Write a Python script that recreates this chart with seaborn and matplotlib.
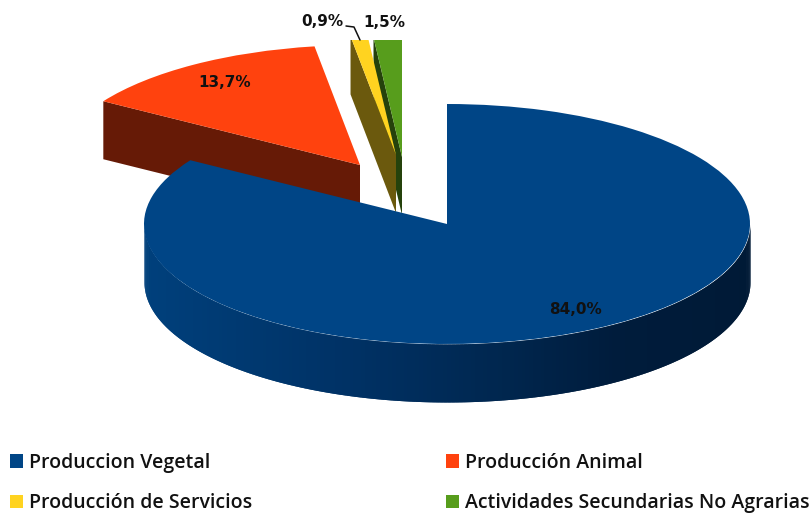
import numpy as np
import matplotlib
matplotlib.use("Agg")
import matplotlib.pyplot as plt
from matplotlib.colors import to_rgb
import seaborn as sns

categories = ["Produccion Vegetal", "Producción Animal", "Producción de Servicios", "Actividades Secundarias No Agrarias"]
values = [84.0, 13.7, 0.9, 1.5]
colors = ["#004586", "#ff420e", "#ffd320", "#579d1c"]
wall_shades = [None, 0.40, 0.42, 0.42]

W, H = 809, 513
CX, CY, RX, RY, DEPTH = 447, 224, 303, 120, 58
CLIP_TOP = 40
# slice offsets in pixels (right, up)
offsets_px = [(0, 0), (-87, 59), (-51, 69), (-45, 67)]
zorders = [(7, 8), (1, 2), (5, 6), (3, 4)]

sns.set_theme(style="white")
palette = sns.color_palette(colors)

fig = plt.figure(figsize=(W / 100, H / 100), dpi=100, facecolor="white")
ax = fig.add_axes([0, 0, 1, (H - CLIP_TOP) / H])
ax.set_axis_off()

wedges, _ = ax.pie(values, colors=palette, startangle=90, counterclock=False, radius=1, center=(0, 0))
ax.set_aspect("auto")
ax.set_xlim(-CX / RX, (W - CX) / RX)
ax.set_ylim((CY - H) / RY, (CY - CLIP_TOP) / RY)

depth = DEPTH / RY
fractions = np.array(values) / np.sum(values)
starts = 90 - 360 * np.concatenate([[0], np.cumsum(fractions)[:-1]])

for i, w in enumerate(wedges):
    dx, dy = offsets_px[i][0] / RX, offsets_px[i][1] / RY
    w.set_center((dx, dy))
    w.set_zorder(zorders[i][1])
    w.set_linewidth(0)
    w.set_clip_on(True)
    w.set_clip_path(ax.patch)
    if wall_shades[i] is not None:
        a = np.radians(starts[i])
        col = tuple(c * wall_shades[i] for c in to_rgb(colors[i]))
        ex, ey = dx + np.cos(a), dy + np.sin(a)
        ax.fill([dx, ex, ex, dx], [dy, ey, ey - depth, dy - depth],
                color=col, lw=0, zorder=zorders[i][0])

# outer wall of the main slice, shaded left to right; each strip overlaps the next
anchors_x = [-1.0, -0.3, 0.2, 0.55, 1.0]
anchors_rgb = np.array([to_rgb(c) for c in ["#00407c", "#003164", "#00264e", "#001c3c", "#001a36"]])
angles = np.radians(np.linspace(180, 360, 241))
xs = np.cos(angles)
tops = np.sin(angles)
for k in range(len(xs) - 1):
    xm = (xs[k] + xs[k + 1]) / 2
    col = [np.interp(xm, anchors_x, anchors_rgb[:, j]) for j in range(3)]
    ax.fill_between(xs[k:k + 3], tops[k:k + 3] - depth, tops[k:k + 3],
                    color=col, lw=0, zorder=zorders[0][0])

def fx(px):
    return px / W

def fy(py):
    return 1 - py / H

label_font = dict(family="DejaVu Sans", fontsize=11, fontweight="bold", color="#111111",
                  ha="center", va="center")
label_pos = [(575, 309), (225, 83), (322, 21), (384, 23)]
for v, (px, py) in zip(values, label_pos):
    fig.text(fx(px), fy(py), f"{v:.1f}%".replace(".", ","), **label_font)

# leader line of the small slice
fig.add_artist(plt.Line2D([fx(346), fx(354), fx(360)], [fy(26), fy(27), fy(40)],
                          color="#111111", lw=1.1))

order = [0, 2, 1, 3]
leg = fig.legend([wedges[i] for i in order], [categories[i] for i in order], ncols=2,
                 loc="lower left", bbox_to_anchor=(fx(4), fy(519)), frameon=False,
                 prop=dict(family="Open Sans", weight="semibold", size=14),
                 handlelength=0.67, handleheight=0.67, handletextpad=0.3,
                 columnspacing=10.0, labelspacing=1.05, borderaxespad=0, borderpad=0.3)
for t in leg.get_texts():
    t.set_color("#111111")

fig.savefig("out.png", dpi=100, facecolor="white")
